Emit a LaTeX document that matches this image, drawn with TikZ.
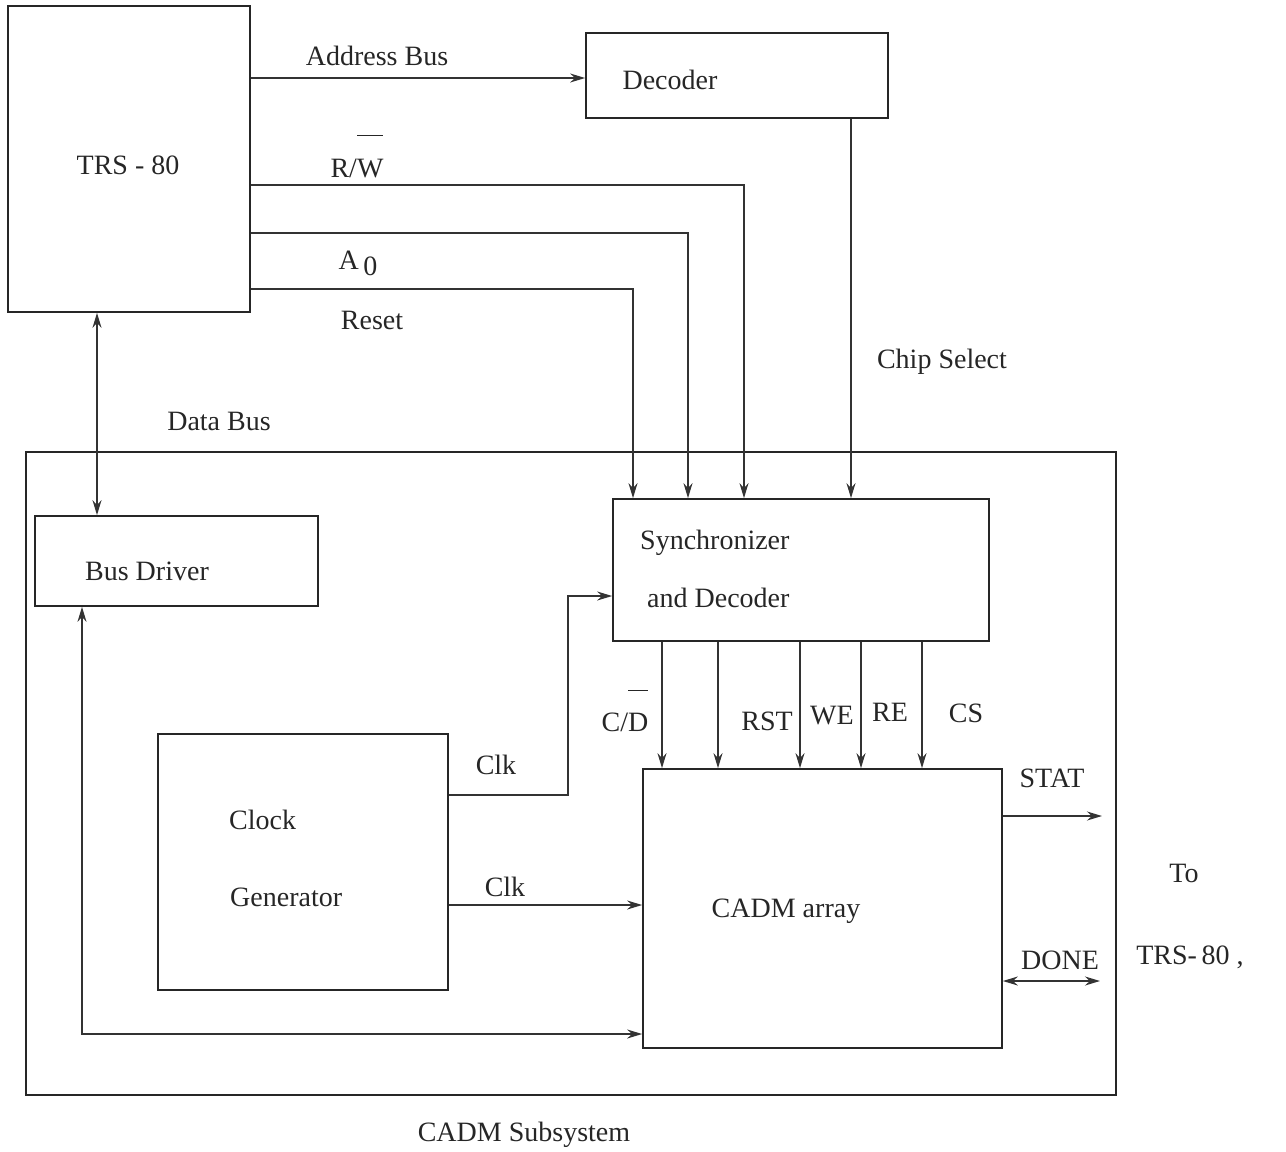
\documentclass[tikz,border=0pt]{standalone}
\usepackage{fontspec}
\setmainfont{Liberation Serif}
\usetikzlibrary{arrows.meta}
\begin{document}
\begin{tikzpicture}[x=1pt,y=-1pt,
  every node/.style={font=\fontsize{28}{34}\selectfont, text=black!85},
  box/.style={draw, line width=1.7pt, inner sep=0pt, draw=black!85},
  wire/.style={line width=1.6pt, draw=black!80},
  arr/.style={wire, -{Stealth[length=15pt,width=9pt]}},
  dbl/.style={wire, {Stealth[length=15pt,width=9pt]}-{Stealth[length=15pt,width=9pt]}},
  lbl/.style={inner sep=0pt}]
\useasboundingbox (0,0) rectangle (1286,1152);

% boxes
\node[box, minimum width=242pt, minimum height=306pt] (trs) at (129,159) {};
\node[box, minimum width=302pt, minimum height=85pt] (dec) at (737,75.5) {};
\node[box, minimum width=1090pt, minimum height=643pt] (sub) at (571,773.5) {};
\node[box, minimum width=283pt, minimum height=90pt] (bus) at (176.5,561) {};
\node[box, minimum width=376pt, minimum height=142pt] (sync) at (801,570) {};
\node[box, minimum width=290pt, minimum height=256pt] (clk) at (303,862) {};
\node[box, minimum width=359pt, minimum height=279pt] (cadm) at (822.5,908.5) {};

% box texts
\node[lbl] (ttrs) at (128,165) {TRS - 80};
\node[lbl] (tdec) at (670,80) {Decoder};
\node[lbl] (tbus) at (147,571) {Bus Driver};
\node[lbl, anchor=west] (tsy1) at (640,543) {Synchronizer};
\node[lbl, anchor=west] (tsy2) at (647,598) {and Decoder};
\node[lbl, anchor=west] (tck1) at (229,820) {Clock};
\node[lbl, anchor=west] (tck2) at (230,897) {Generator};
\node[lbl] (tcadm) at (786,911) {CADM array};
\node[lbl] (tsub) at (524,1135) {CADM Subsystem};

% coordinates
\coordinate (rw) at (744,185);
\coordinate (azero) at (688,233);
\coordinate (rst) at (633,289);
\coordinate (cs) at (851,200);
\coordinate (db) at (97,400);
\coordinate (rt) at (82,1034);
\coordinate (ck1) at (568,795);
\coordinate (syin) at (0,596);
\coordinate (statend) at (1102,816);
\coordinate (doneend) at (1100,981);

% connectors
\draw[arr] (trs.east |- 0,78) -- (dec.west |- 0,78);
\draw[arr] (trs.east |- rw) -- (rw) -- (rw |- sync.north);
\draw[arr] (trs.east |- azero) -- (azero) -- (azero |- sync.north);
\draw[arr] (trs.east |- rst) -- (rst) -- (rst |- sync.north);
\draw[arr] (dec.south -| cs) -- (cs |- sync.north);
\draw[dbl] (trs.south -| db) -- (db |- bus.north);
\draw[dbl] (bus.south -| rt) -- (rt) -- (rt -| cadm.west);
\draw[arr] (clk.east |- ck1) -- (ck1) |- (sync.west |- syin);
\draw[arr] (clk.east |- 0,905) -- (cadm.west |- 0,905);
\foreach \x in {662,718,800,861,922}
  \draw[arr] (sync.south -| \x,0) -- (cadm.north -| \x,0);
\draw[arr] (cadm.east |- statend) -- (statend);
\draw[dbl] (cadm.east |- doneend) -- (doneend);

% labels
\node[lbl] (laddr) at (377,56) {Address Bus};
\node[lbl, anchor=base] (lrw) at (357,177) {R/$\overline{\rule{0pt}{1.45em}\mbox{W}}$};
\node[lbl, anchor=base] (la0) at (358,269) {A\,\raisebox{-6pt}{0}};
\node[lbl] (lreset) at (372,320) {Reset};
\node[lbl] (ldata) at (219,421) {Data Bus};
\node[lbl] (lchip) at (942,362) {Chip Select};
\node[lbl] (lclk1) at (496,765) {Clk};
\node[lbl] (lclk2) at (505,887) {Clk};
\node[lbl, anchor=base] (lcd) at (625,731) {C/$\overline{\rule{0pt}{1.4em}\mbox{D}}$};
\node[lbl] (lrst) at (767,721) {RST};
\node[lbl] (lwe) at (832,716) {WE};
\node[lbl] (lre) at (890,712) {RE};
\node[lbl] (lcs) at (966,713) {CS};
\node[lbl] (lstat) at (1052,778) {STAT};
\node[lbl] (ldone) at (1060,960) {DONE};
\node[lbl] (lto) at (1184,873) {To};
\node[lbl] (ltrs) at (1190,957) {TRS-\,80 ,};
\end{tikzpicture}
\end{document}
